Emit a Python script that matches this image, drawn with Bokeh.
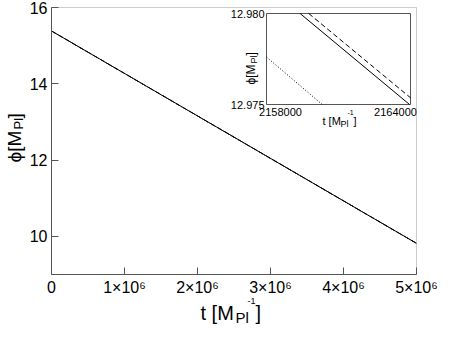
import math
from bokeh.plotting import figure
from bokeh.models import Range1d, FixedTicker, Label, BoxAnnotation
from bokeh.embed import file_html
from bokeh.resources import INLINE
from bokeh.core.properties import value

# ---------------- data ----------------
t_main = [0, 5000000]
phi_solid_main = [15.385, 9.817]
phi_dashed_main = [15.3854, 9.8174]
phi_dotted_main = [15.3823, 9.8143]

t_inset_solid = [2159400, 2163960]
phi_inset_solid = [12.980, 12.975]
t_inset_dashed = [2159760, 2164000]
phi_inset_dashed = [12.980, 12.97537]
t_inset_dotted = [2158000, 2160320]
phi_inset_dotted = [12.97761, 12.975]

x_ticks = [0, 1000000, 2000000, 3000000, 4000000, 5000000]
x_tick_labels = ["0", "1×10⁶", "2×10⁶", "3×10⁶", "4×10⁶", "5×10⁶"]
y_ticks = [10, 12, 14, 16]
x_lo, x_hi = 0, 5000000
y_lo, y_hi = 9, 16
inset_x_ticks = [2158000, 2164000]
inset_x_labels = ["2158000", "2164000"]
inset_y_ticks = [12.975, 12.980]
inset_y_labels = ["12.975", "12.980"]

# ---------------- layout (canvas pixels, from top-left) ----------------
W, H = 438, 325
PL, PR, PT, PB = 51, 416, 7, 274          # main plot box
IL, IR, IT, IB = 266, 410, 13, 104        # inset box

FONT = "Liberation Sans"
AX = "#555555"

xs = (x_hi - x_lo) / (PR - PL)
ys = (y_hi - y_lo) / (PB - PT)
def px2x(px):
    return x_lo + (px - PL) * xs
def py2y(py):
    return y_lo + (PB - py) * ys

p = figure(width=W, height=H,
           x_range=Range1d(px2x(0), px2x(W)), y_range=Range1d(py2y(H), py2y(0)),
           output_backend="svg", toolbar_location=None,
           min_border_left=0, min_border_right=0, min_border_top=0, min_border_bottom=0)
p.grid.visible = False
p.outline_line_color = None
p.background_fill_color = "white"
p.border_fill_color = "white"

for ax in (p.xaxis[0], p.yaxis[0]):
    ax.axis_line_color = AX
    ax.major_tick_line_color = AX
    ax.major_tick_in = 7
    ax.major_tick_out = 0
    ax.minor_tick_line_color = None
    ax.major_label_text_font = FONT
    ax.major_label_text_font_size = "16px"
    ax.major_label_text_color = "black"

p.xaxis.ticker = FixedTicker(ticks=x_ticks)
p.xaxis.major_label_overrides = {k: v for k, v in zip(x_ticks, x_tick_labels)}
p.xaxis.major_label_standoff = 4
p.xaxis.fixed_location = y_lo
p.xaxis.bounds = (x_lo, x_hi)
p.yaxis.ticker = FixedTicker(ticks=y_ticks)
p.yaxis.major_label_standoff = 4
p.yaxis.fixed_location = x_lo
p.yaxis.bounds = (y_lo, y_hi)

p.add_layout(BoxAnnotation(left=x_lo, right=x_hi, bottom=y_lo, top=y_hi,
                           fill_color=None, line_color=AX, line_width=1))

# main curves
p.line(t_main, phi_dotted_main, line_color="black", line_width=1, line_dash="1 2")
p.line(t_main, phi_dashed_main, line_color="black", line_width=1, line_dash="5 3")
p.line(t_main, phi_solid_main, line_color="black", line_width=1)

# ---------------- inset ----------------
sub = p.subplot(x_source=Range1d(inset_x_ticks[0], inset_x_ticks[1]),
                y_source=Range1d(inset_y_ticks[0], inset_y_ticks[1]),
                x_target=Range1d(px2x(IL), px2x(IR)),
                y_target=Range1d(py2y(IB), py2y(IT)))
sub.quad(left=[inset_x_ticks[0]], right=[inset_x_ticks[1]],
         bottom=[inset_y_ticks[0]], top=[inset_y_ticks[1]],
         fill_color="white", line_color=AX, line_width=1)
sub.line(t_inset_dotted, phi_inset_dotted, line_color="black", line_width=1, line_dash="1 2")
sub.line(t_inset_dashed, phi_inset_dashed, line_color="black", line_width=1, line_dash="5 3")
sub.line(t_inset_solid, phi_inset_solid, line_color="black", line_width=1)

sub.text(x=inset_x_ticks, y=[inset_y_ticks[0]] * 2, text=inset_x_labels,
         x_offset=[14, -15], y_offset=3, text_align="center", text_baseline="top",
         text_font=value(FONT), text_font_size="11px", text_color="black")
sub.text(x=[inset_x_ticks[0]] * 2, y=inset_y_ticks, text=inset_y_labels,
         x_offset=-2, text_align="right", text_baseline="middle",
         text_font=value(FONT), text_font_size="11px", text_color="black")


def lab(text, cx, cy, size, angle=0.0):
    """cx, cy: canvas pixels from top-left (baseline start point)."""
    p.add_layout(Label(x=cx, y=H - cy, x_units="screen", y_units="screen", text=text,
                       angle=angle, text_font=FONT, text_font_size=f"{size}px",
                       text_color="black", text_align="left", text_baseline="alphabetic"))


R = math.pi / 2
# main x-axis label: t [M_Pl^-1]
lab("t [M", 200, 312, 20)
lab("Pl", 235, 317, 15)
lab("-1", 247, 300, 9)
lab("]", 255, 312, 20)
# main y-axis label: phi[M_Pl]
lab("ϕ[M", 14, 162, 19, R)
lab("Pl", 18, 129, 13, R)
lab("]", 14, 118, 19, R)
# inset x label
lab("t [M", IL + 56, IB + 16, 11)
lab("Pl", IL + 74, IB + 19, 9)
lab("-1", IL + 81, IB + 8, 7)
lab("]", IL + 87, IB + 16, 11)
# inset y label
lab("ϕ[M", IL - 16, IT + 71, 12, R)
lab("Pl", IL - 13, IT + 50, 9, R)
lab("]", IL - 16, IT + 42, 12, R)

open("out.html", "w").write(file_html(p, INLINE))
